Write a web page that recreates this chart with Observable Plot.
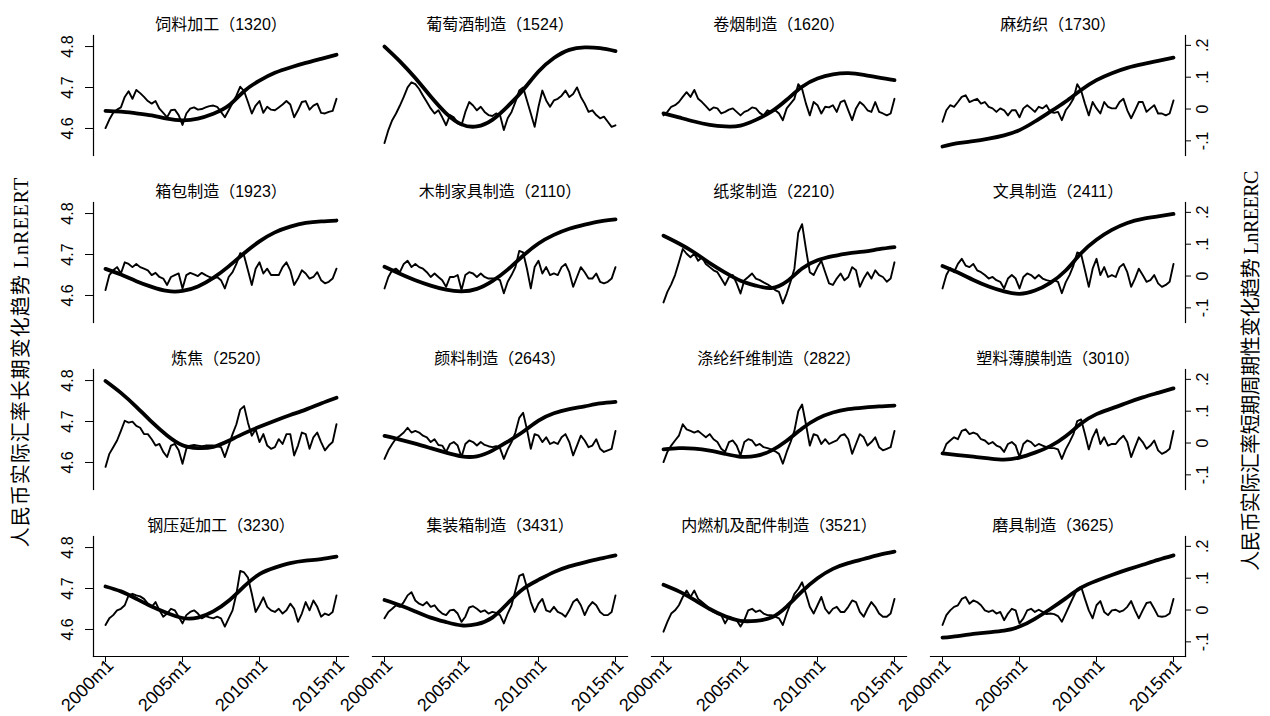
<!DOCTYPE html>
<html><head><meta charset="utf-8">
<script src="https://cdn.jsdelivr.net/npm/d3@7"></script>
<script src="https://cdn.jsdelivr.net/npm/@observablehq/plot@0.6"></script>
<style>
body{margin:0;background:#fff;}
#wrap{position:relative;width:1270px;height:716px;overflow:hidden;}
.side{position:absolute;font-family:"Liberation Serif","Noto Sans CJK SC",serif;font-size:20px;white-space:nowrap;transform:translate(-50%,-50%) rotate(-90deg);color:#000;}
</style></head><body>
<div id="wrap"></div>
<script>
// ---- categories / tick labels ----
const names = ["饲料加工","葡萄酒制造","卷烟制造","麻纺织","箱包制造","木制家具制造","纸浆制造","文具制造","炼焦","颜料制造","涤纶纤维制造","塑料薄膜制造","钢压延加工","集装箱制造","内燃机及配件制造","磨具制造"];
const codes = ["1320","1524","1620","1730","1923","2110","2210","2411","2520","2643","2822","3010","3230","3431","3521","3625"];
const xTicks = [2000, 2005, 2010, 2015];
const leftTicks = [4.6, 4.7, 4.8];
const rightTicks = [-0.1, 0, 0.1, 0.2];
const rightTickLabels = ["-.1", "0", ".1", ".2"];
const leftTitle = "人民币实际汇率长期变化趋势 LnREERT";
const rightTitle = "人民币实际汇率短期周期性变化趋势 LnREERC";

// trend (LnREERT) read once a year, 2000m1 … 2015m1
const years = d3.range(2000, 2016);
// cycle (LnREERC) read once a quarter, 2000m1 … 2015m1
const quarters = d3.range(61).map(i => 2000 + i / 4);

const t1320 = [4.643,4.641,4.637,4.632,4.624,4.620,4.624,4.636,4.656,4.691,4.717,4.736,4.749,4.760,4.770,4.780];
const c1320 = [-0.060,-0.033,-0.012,-0.002,0.005,0.038,0.056,0.032,0.060,0.050,0.038,0.025,0.017,0.025,0.001,-0.012,-0.026,-0.004,-0.002,-0.019,-0.050,-0.014,0.001,0.005,-0.002,0,0.005,0.009,0.011,0.007,-0.009,-0.026,-0.004,0.019,0.042,0.070,0.056,0.022,-0.014,0.011,0.025,-0.012,0.007,-0.002,-0.004,0.005,0.014,0.025,0.014,-0.026,-0.004,0.022,0.025,-0.002,0.011,0.017,-0.012,-0.014,-0.009,-0.006,0.032];
const t1524 = [4.800,4.764,4.723,4.678,4.637,4.610,4.605,4.621,4.654,4.694,4.739,4.772,4.792,4.798,4.796,4.789];
const c1524 = [-0.107,-0.066,-0.035,-0.014,0.011,0.038,0.068,0.084,0.078,0.063,0.042,0.022,0.002,-0.014,-0.004,-0.026,-0.051,-0.019,-0.026,-0.045,-0.051,-0.009,0.022,0.011,-0.004,0.007,-0.009,-0.019,-0.022,-0.014,-0.019,-0.066,-0.029,-0.009,0.022,0.058,0.068,0.027,-0.014,-0.056,0.007,0.058,0.027,0.007,0.027,0.032,0.042,0.058,0.038,0.047,0.068,0.038,0.017,-0.009,-0.004,-0.019,-0.029,-0.024,-0.040,-0.056,-0.051];
const t1620 = [4.637,4.627,4.617,4.609,4.605,4.607,4.621,4.641,4.670,4.702,4.722,4.732,4.735,4.731,4.724,4.718];
const c1620 = [-0.020,-0.009,0.007,0.012,0.022,0.038,0.053,0.038,0.060,0.032,0.022,0.009,-0.004,0.005,0.002,-0.014,-0.009,-0.002,0.002,-0.009,-0.020,-0.009,-0.004,0.005,0.002,-0.012,-0.020,-0.004,-0.009,-0.004,-0.014,-0.035,0.002,0.017,0.032,0.078,0.063,0.017,-0.020,0.022,0.012,-0.014,0.007,0.005,0.012,-0.009,0.022,0.027,-0.004,-0.035,0.002,0.022,0.012,-0.004,-0.009,0.022,-0.009,-0.014,-0.020,-0.014,0.032];
const t1730 = [4.556,4.564,4.569,4.575,4.583,4.596,4.617,4.641,4.666,4.694,4.718,4.735,4.748,4.757,4.765,4.773];
const c1730 = [-0.040,-0.004,0.012,0.007,0.022,0.038,0.043,0.022,0.027,0.032,0.017,0.022,0.007,0.002,-0.009,0.002,-0.004,-0.020,-0.004,-0.004,-0.026,0.002,0.012,0.002,-0.009,0.007,0.002,0.012,-0.009,-0.012,-0.009,-0.035,-0.004,0.012,0.032,0.078,0.058,0.017,-0.020,0.022,0.002,-0.014,0.022,0.007,0.002,0.002,0.022,0.032,-0.004,-0.029,-0.004,0.022,0.022,-0.009,0.002,0.012,-0.014,-0.014,-0.020,-0.014,0.027];
const t1923 = [4.665,4.651,4.635,4.621,4.611,4.611,4.622,4.643,4.671,4.703,4.732,4.754,4.768,4.777,4.781,4.783];
const c1923 = [-0.044,0.003,0.018,0.028,0.008,0.043,0.038,0.028,0.038,0.028,0.023,0.018,0.003,0.010,-0.003,-0.008,-0.028,-0.003,0.003,0.008,-0.039,0.003,0.010,0.005,0,0.010,0.003,-0.003,-0.008,-0.003,-0.013,-0.039,-0.003,0.012,0.038,0.072,0.064,0.018,-0.028,0.023,0.043,0.008,0.023,0.003,0.003,0.003,0.028,0.043,0.018,-0.028,-0.008,0.018,0.008,-0.008,-0.003,0.012,-0.013,-0.023,-0.018,-0.008,0.023];
const t2110 = [4.670,4.653,4.637,4.624,4.614,4.610,4.616,4.635,4.663,4.697,4.727,4.748,4.763,4.773,4.781,4.786];
const c2110 = [-0.039,-0.003,0.018,0.023,0.012,0.038,0.048,0.028,0.038,0.028,0.023,0.012,-0.003,0.008,-0.003,-0.013,-0.034,-0.003,-0.003,0.003,-0.044,0.003,0.012,0.008,-0.003,0.008,-0.003,-0.008,-0.008,-0.008,-0.013,-0.054,-0.018,0.003,0.028,0.079,0.074,0.023,-0.039,0.028,0.048,0.008,0.028,0.003,0.008,0.003,0.028,0.038,0.012,-0.034,-0.003,0.028,0.012,-0.008,-0.008,0.008,-0.018,-0.023,-0.018,-0.008,0.028];
const t2210 = [4.746,4.727,4.705,4.679,4.656,4.636,4.624,4.618,4.634,4.666,4.686,4.696,4.703,4.707,4.713,4.718];
const c2210 = [-0.083,-0.050,-0.026,0.003,0.043,0.085,0.070,0.059,0.070,0.048,0.059,0.038,0.028,0.018,0.012,-0.008,-0.028,-0.003,0.003,-0.023,-0.055,-0.013,-0.003,0.008,-0.008,-0.013,-0.020,-0.026,-0.034,-0.044,-0.050,-0.086,-0.055,-0.018,0.023,0.136,0.163,0.085,0.012,0.003,0.028,0.048,0.012,-0.023,-0.028,-0.008,0.008,-0.013,-0.003,0.028,0.018,-0.034,-0.008,0.012,-0.008,0.018,0.003,-0.003,-0.018,-0.008,0.043];
const t2411 = [4.672,4.656,4.638,4.622,4.610,4.604,4.612,4.631,4.661,4.703,4.736,4.760,4.777,4.787,4.793,4.799];
const c2411 = [-0.039,0.003,0.025,0.012,0.038,0.054,0.033,0.028,0.038,0.018,0.012,0.003,-0.008,-0.003,-0.013,-0.018,-0.039,-0.008,0.003,-0.008,-0.039,-0.003,0.008,0.003,-0.008,0.003,-0.008,-0.013,-0.016,-0.013,-0.018,-0.054,-0.020,0.003,0.033,0.074,0.069,0.018,-0.034,0.023,0.054,0.003,0.028,-0.003,0.003,-0.003,0.028,0.038,0.012,-0.034,-0.008,0.023,0.003,-0.018,-0.013,0.003,-0.023,-0.034,-0.028,-0.018,0.038];
const t2520 = [4.799,4.770,4.736,4.699,4.666,4.642,4.635,4.638,4.653,4.671,4.687,4.702,4.716,4.729,4.744,4.758];
const c2520 = [-0.075,-0.034,-0.013,0.008,0.038,0.070,0.064,0.067,0.054,0.048,0.028,0.028,0.012,-0.008,-0.003,-0.028,-0.044,-0.008,-0.003,-0.023,-0.065,-0.018,-0.008,-0.006,-0.008,-0.010,-0.008,-0.008,-0.008,-0.010,-0.013,-0.044,-0.008,0.028,0.059,0.105,0.116,0.064,0.023,0.043,0.003,0.028,-0.008,-0.018,-0.013,0.012,-0.003,0.028,0.028,-0.039,-0.008,0.033,0.028,-0.018,0.018,0.033,0.003,-0.023,-0.008,0.003,0.059];
const t2643 = [4.665,4.656,4.646,4.635,4.624,4.615,4.615,4.629,4.651,4.675,4.702,4.720,4.730,4.737,4.744,4.748];
const c2643 = [-0.050,-0.023,-0.003,0.014,0.023,0.033,0.048,0.033,0.038,0.033,0.023,0.018,0.003,0.012,-0.006,-0.008,-0.028,-0.003,0.003,-0.008,-0.044,-0.003,0.008,0.003,-0.008,0.003,-0.006,-0.010,-0.013,-0.010,-0.016,-0.050,-0.020,0.003,0.033,0.079,0.095,0.043,-0.018,0.028,0.023,0.003,0.018,-0.003,0.003,-0.003,0.018,0.028,0.003,-0.039,-0.008,0.023,0.008,-0.013,-0.008,0.012,-0.018,-0.028,-0.023,-0.018,0.038];
const t2822 = [4.632,4.635,4.634,4.629,4.621,4.614,4.616,4.629,4.653,4.683,4.707,4.722,4.730,4.734,4.737,4.739];
const c2822 = [-0.060,-0.028,-0.008,0.008,0.023,0.059,0.043,0.038,0.033,0.038,0.028,0.018,0.028,0.012,0.003,-0.018,-0.028,0.003,0.008,-0.008,-0.039,0.003,0.012,0.008,-0.008,-0.003,-0.013,-0.016,-0.020,-0.026,-0.034,-0.065,-0.028,0.003,0.038,0.100,0.121,0.059,-0.008,0.028,0.023,-0.003,0.012,-0.003,0.003,0.008,0.023,0.028,0.012,-0.034,-0.003,0.028,0.018,-0.008,0.003,0.018,-0.013,-0.023,-0.018,-0.013,0.038];
const t3010 = [4.622,4.618,4.614,4.610,4.607,4.612,4.624,4.640,4.664,4.695,4.718,4.732,4.746,4.759,4.770,4.781];
const c3010 = [-0.034,-0.003,0.008,0.018,0.012,0.038,0.043,0.028,0.033,0.028,0.012,0.008,-0.003,0.003,-0.008,-0.013,-0.028,-0.003,0.003,-0.008,-0.044,-0.003,0.008,0.003,-0.010,-0.003,-0.008,-0.013,-0.016,-0.016,-0.020,-0.050,-0.020,0.003,0.028,0.069,0.074,0.028,-0.020,0.018,0.043,-0.003,0.018,-0.008,-0.003,-0.003,0.012,0.023,0.003,-0.044,-0.013,0.018,0.003,-0.018,-0.008,0.008,-0.023,-0.034,-0.028,-0.018,0.038];
const t3230 = [4.705,4.693,4.675,4.656,4.640,4.628,4.629,4.644,4.670,4.705,4.735,4.751,4.762,4.768,4.772,4.778];
const c3230 = [-0.047,-0.026,-0.016,-0.001,0.004,0.015,0.046,0.051,0.046,0.043,0.035,0.020,0.010,0.025,-0.001,-0.021,-0.011,0.004,-0.001,-0.021,-0.042,-0.016,-0.006,-0.001,-0.011,-0.026,-0.019,-0.023,-0.026,-0.021,-0.026,-0.052,-0.026,-0.001,0.051,0.123,0.118,0.102,0.051,-0.006,0.015,0.040,0.010,-0.001,-0.006,0.004,-0.011,-0.001,0.020,0.004,-0.037,-0.011,0.025,-0.001,0.030,0.010,-0.021,-0.011,-0.016,-0.006,0.046];
const t3431 = [4.672,4.659,4.644,4.629,4.618,4.610,4.613,4.629,4.664,4.699,4.721,4.740,4.754,4.764,4.773,4.781];
const c3431 = [-0.026,-0.006,0.004,0.015,0.010,0.025,0.046,0.056,0.030,0.020,0.015,0.025,0.010,0.015,-0.001,-0.011,-0.016,-0.001,0.001,-0.011,-0.037,-0.021,0.008,0.012,0.004,-0.006,-0.001,-0.011,-0.006,-0.009,-0.016,-0.042,-0.011,0.015,0.061,0.107,0.113,0.071,0.025,-0.006,0.020,0.035,-0.001,-0.006,0.010,-0.006,-0.011,-0.021,-0.001,0.025,0.035,0.015,-0.016,0.010,0.025,0.015,-0.006,-0.016,-0.016,-0.006,0.046];
const t3521 = [4.709,4.693,4.672,4.650,4.632,4.621,4.621,4.629,4.656,4.693,4.725,4.748,4.762,4.772,4.782,4.790];
const c3521 = [-0.068,-0.037,-0.011,-0.001,0.015,0.041,0.061,0.041,0.061,0.035,0.025,0.015,0.004,-0.006,-0.011,-0.016,-0.042,-0.021,-0.026,-0.032,-0.052,-0.032,-0.001,0.004,-0.006,-0.001,-0.011,-0.016,-0.016,-0.021,-0.026,-0.047,-0.011,0.020,0.051,0.066,0.087,0.051,0.010,-0.011,0.015,0.041,0.004,-0.011,0.004,0.010,-0.006,-0.006,0.010,0.030,0.025,-0.006,-0.021,0.004,0.025,0.010,-0.011,-0.021,-0.021,-0.011,0.035];
const t3625 = [4.580,4.584,4.589,4.593,4.597,4.607,4.626,4.650,4.676,4.702,4.719,4.733,4.746,4.758,4.770,4.781];
const c3625 = [-0.047,-0.016,-0.001,0.010,0.015,0.035,0.041,0.020,0.030,0.025,0.015,-0.001,-0.006,-0.001,-0.011,-0.006,-0.032,-0.011,0.004,-0.001,-0.042,-0.026,-0.001,0.004,-0.006,0.001,-0.006,-0.013,-0.011,-0.013,-0.019,-0.037,-0.011,0.015,0.041,0.066,0.073,0.035,-0.001,-0.026,0.015,0.028,-0.006,-0.016,-0.001,0.001,-0.006,-0.001,0.010,0.028,-0.001,-0.026,-0.001,0.022,0.025,0.004,-0.019,-0.021,-0.019,-0.011,0.035];

const trends = [t1320,t1524,t1620,t1730,t1923,t2110,t2210,t2411,t2520,t2643,t2822,t3010,t3230,t3431,t3521,t3625];
const cycles = [c1320,c1524,c1620,c1730,c1923,c2110,c2210,c2411,c2520,c2643,c2822,c3010,c3230,c3431,c3521,c3625];

// ---- scales: left (trend) and right (cycle) axes share the panel height ----
const yLeft = [4.534, 4.827];
const yRight = [-0.146, 0.231];
const toLeft = v => yLeft[0] + (v - yRight[0]) * (yLeft[1] - yLeft[0]) / (yRight[1] - yRight[0]);
const fromLeft = y => yRight[0] + (y - yLeft[0]) * (yRight[1] - yRight[0]) / (yLeft[1] - yLeft[0]);

const trendRows = [], cycleRows = [], titleRows = [];
names.forEach((name, i) => {
  const col = i % 4, row = Math.floor(i / 4);
  titleRows.push({col, row, title: `${name}（${codes[i]}）`});
  trends[i].forEach((v, k) => trendRows.push({col, row, t: years[k], v}));
  cycles[i].forEach((v, k) => cycleRows.push({col, row, t: quarters[k], v}));
});

const chart = Plot.plot({
  width: 1270, height: 716,
  marginLeft: 91, marginRight: 83, marginTop: 34, marginBottom: 60,
  style: {fontFamily: "'Liberation Sans', Arial, sans-serif", background: "white", color: "black"},
  x: {domain: [1999.22, 2015.78]},
  y: {domain: yLeft},
  fx: {domain: [0, 1, 2, 3], paddingInner: 0.0857, paddingOuter: 0, axis: null},
  fy: {domain: [0, 1, 2, 3], paddingInner: 0.283, paddingOuter: 0, axis: null},
  marks: [
    Plot.frame({anchor: "left", facetAnchor: "left", stroke: "black", strokeWidth: 1.2}),
    Plot.frame({anchor: "right", facetAnchor: "right", stroke: "black", strokeWidth: 1.2}),
    Plot.frame({anchor: "bottom", facetAnchor: "bottom", stroke: "black", strokeWidth: 1.2}),
    Plot.axisY({anchor: "left", ticks: leftTicks, tickFormat: d => d.toFixed(1), tickSize: 8, tickPadding: 13, tickRotate: -90, fontSize: 16, label: null}),
    Plot.axisY({anchor: "right", ticks: rightTicks.map(toLeft), tickFormat: d => {
        const v = Math.round(fromLeft(d) * 10) / 10;
        return rightTickLabels[rightTicks.findIndex(r => Math.abs(r - v) < 1e-6)];
      }, tickSize: 5, tickPadding: 6, tickRotate: -90, lineAnchor: "top", fontSize: 16, label: null}),
    // x tick marks
    Plot.axisX({anchor: "bottom", ticks: xTicks, tickFormat: () => "", tickSize: 6, label: null}),
    // x tick labels, rotated, ending just right of each tick
    Plot.axisX({anchor: "bottom", ticks: xTicks, tickFormat: d => `${d}m1`, tickSize: 0, tickPadding: 6, tickRotate: -45, fontSize: 18, dx: 5, label: null}),
    Plot.line(trendRows, {x: "t", y: "v", fx: "col", fy: "row", stroke: "black", strokeWidth: 3.8, curve: "natural"}),
    Plot.line(cycleRows, {x: "t", y: d => toLeft(d.v), fx: "col", fy: "row", stroke: "black", strokeWidth: 1.9, strokeLinejoin: "round"}),
    Plot.text(titleRows, {fx: "col", fy: "row", text: "title", frameAnchor: "top", lineAnchor: "bottom", dy: -6, fontSize: 16, fontFamily: "'Liberation Sans', 'Noto Sans CJK SC', sans-serif", fill: "black"})
  ]
});

const wrap = document.getElementById("wrap");
wrap.appendChild(chart);
const l = document.createElement("div");
l.className = "side"; l.textContent = leftTitle; l.style.left = "19px"; l.style.top = "362px"; l.style.letterSpacing = "1px";
const r = document.createElement("div");
r.className = "side"; r.textContent = rightTitle; r.style.left = "1249px"; r.style.top = "371px"; r.style.letterSpacing = "-0.5px";
wrap.appendChild(l); wrap.appendChild(r);
</script>
</body></html>
